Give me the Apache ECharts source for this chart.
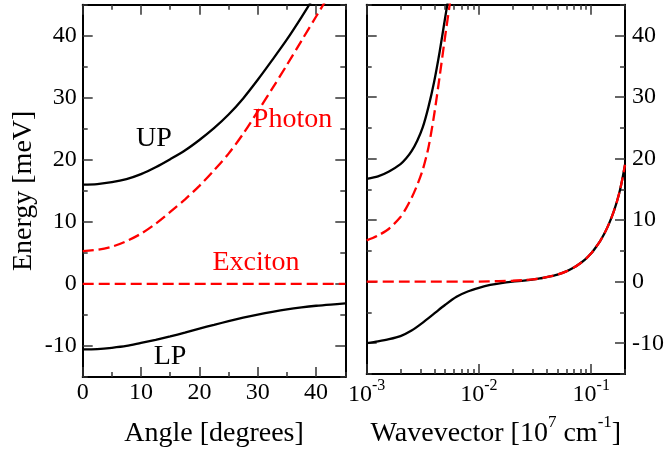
<!DOCTYPE html>
<html><head><meta charset="utf-8">
<script src="https://cdn.jsdelivr.net/npm/echarts@6/dist/echarts.min.js"></script>
<style>html,body{margin:0;padding:0;background:#fff}#c{width:667px;height:453px}</style>
</head><body><div id="c"></div>
<script>
// ---- Left panel: energy vs angle ----
const angleDeg = [0,2.5,5,7.5,10,12.5,15,17.5,20,22.5,25,27.5,30,32.5,35,37.5,40,42.5,45];
const upperAngle = [16.0,16.1,16.4,16.9,17.7,18.8,20.1,21.5,23.2,25.1,27.3,29.9,32.9,36.1,39.4,43.0,46.8,50.6,54.5];
const photonAngle = [5.3,5.5,6.0,6.9,8.1,9.7,11.6,13.6,15.8,18.3,21.0,24.2,27.8,31.5,35.3,39.2,43.1,47.0,51.0];
const lowerAngle = [-10.55,-10.5,-10.3,-10.0,-9.5,-9.0,-8.45,-7.85,-7.2,-6.6,-6.0,-5.45,-4.95,-4.5,-4.1,-3.78,-3.52,-3.32,-3.15];
const excitonAngleX = [0,45];
const excitonAngle = [0,0];

// ---- Right panel: energy vs wavevector ----
const kSmall = [0.001,0.00126,0.00158,0.002,0.00224,0.00251,0.00282,0.00316,0.00355,0.00398,0.00447,0.00501,0.00562,0.00631];
const photonK = [6.7,7.5,8.6,10.5,11.9,13.6,15.7,18.2,21.8,27.0,33.4,40.0,46.3,52.5];
const upperK  = [16.7,17.1,17.9,19.1,20.0,21.2,22.9,25.1,28.4,32.4,37.4,43.0,48.5,54.0];
const kLower = [0.001,0.00126,0.00158,0.002,0.00251,0.00316,0.00398,0.00501,0.00631,0.00794,0.01,0.0126,0.0158,0.02,0.0251,0.03,0.035,0.04,0.05,0.06,0.07,0.08,0.09,0.1,0.11,0.12,0.13,0.14,0.15,0.16,0.17,0.18,0.19,0.2];
const lowerK = [-10.0,-9.7,-9.35,-8.85,-7.95,-6.65,-5.2,-3.75,-2.45,-1.6,-1.0,-0.53,-0.22,0.0,0.16,0.33,0.53,0.72,1.15,1.68,2.3,3.0,3.75,4.6,5.6,6.6,7.7,8.9,10.2,11.6,13.1,14.8,16.8,19.0];
const kExciton = [0.001,0.002,0.005,0.008,0.01,0.015,0.02,0.025,0.03,0.035,0.04,0.05,0.06,0.07,0.08,0.09,0.1,0.11,0.12,0.13,0.14,0.15,0.16,0.17,0.18,0.19,0.2];
const excitonK = [0,0,0,0.01,0.02,0.08,0.15,0.25,0.36,0.53,0.72,1.15,1.68,2.3,3.0,3.75,4.6,5.6,6.6,7.7,8.9,10.2,11.6,13.1,14.8,16.8,19.0];

// ---- Ticks ----
const angleMajor = [0,10,20,30,40];
const angleMinor = [5,15,25,35,45];
const energyMajor = [-10,0,10,20,30,40];
const energyMinor = [-15,-5,5,15,25,35,45];
const kMajor = [0.001,0.01,0.1];
const kMinor = [0.002,0.003,0.004,0.005,0.006,0.007,0.008,0.009,0.02,0.03,0.04,0.05,0.06,0.07,0.08,0.09,0.2];

const FONT = 'Liberation Serif';
const TICKC = '#333';

function axis(kind, grid, pos, type, min, max, ticks, len, opts) {
  const a = {
    type: type, gridIndex: grid, position: pos, min: min, max: max,
    axisLine: {show: !!(opts && opts.line), onZero: false, lineStyle: {color: '#000', width: 2}},
    axisTick: {show: true, inside: true, length: len, customValues: ticks, lineStyle: {color: TICKC, width: 1.5}},
    axisLabel: {show: false, customValues: ticks},
    splitLine: {show: false}, minorTick: {show: false}, minorSplitLine: {show: false}
  };
  if (type === 'log') a.logBase = 10;
  if (opts && opts.label) a.axisLabel = Object.assign({show: true, customValues: ticks, fontFamily: FONT, fontSize: 24, color: '#000'}, opts.label);
  if (opts && opts.name) Object.assign(a, opts.name);
  return a;
}

const xAxes = [
  axis('x',0,'bottom','value',0,45,angleMajor,10,{line:true,label:{margin:4},
     name:{name:'Angle [degrees]',nameLocation:'middle',nameGap:43,nameTextStyle:{fontFamily:FONT,fontSize:28,color:'#000'}}}),
  axis('x',0,'bottom','value',0,45,angleMinor,5),
  axis('x',0,'top','value',0,45,angleMajor,10,{line:true}),
  axis('x',0,'top','value',0,45,angleMinor,5),
  axis('x',1,'bottom','log',0.001,0.2,kMajor,10,{line:true,label:{margin:4,
     formatter: v => '{b|10}{s|' + Math.round(Math.log10(v)) + '}',
     rich:{b:{fontFamily:FONT,fontSize:24,color:'#000',padding:[5,0,0,0],verticalAlign:'bottom'},
           s:{fontFamily:FONT,fontSize:16,color:'#000',lineHeight:16,verticalAlign:'top'}}},
     name:{name:'{t|Wavevector [10}{u|7}{t| cm}{u|-1}{t|]}',nameLocation:'middle',nameGap:40,
       nameTextStyle:{rich:{t:{fontFamily:FONT,fontSize:28,color:'#000',padding:[6,0,0,0],verticalAlign:'bottom'},
                            u:{fontFamily:FONT,fontSize:17,color:'#000',lineHeight:17,verticalAlign:'top'}}}}}),
  axis('x',1,'bottom','log',0.001,0.2,kMinor,5),
  axis('x',1,'top','log',0.001,0.2,kMajor,10,{line:true}),
  axis('x',1,'top','log',0.001,0.2,kMinor,5)
];
const yAxes = [
  axis('y',0,'left','value',-15,45,energyMajor,10,{line:true,label:{margin:6},
     name:{name:'Energy [meV]',nameLocation:'middle',nameGap:45,nameTextStyle:{fontFamily:FONT,fontSize:28,color:'#000'}}}),
  axis('y',0,'left','value',-15,45,energyMinor,5),
  axis('y',0,'right','value',-15,45,energyMajor,10,{line:true}),
  axis('y',0,'right','value',-15,45,energyMinor,5),
  axis('y',1,'left','value',-15,45,energyMajor,10,{line:true}),
  axis('y',1,'left','value',-15,45,energyMinor,5),
  axis('y',1,'right','value',-15,45,energyMajor,10,{line:true,label:{margin:7}}),
  axis('y',1,'right','value',-15,45,energyMinor,5)
];

function zip(xs, ys) { return xs.map((x,i) => [x, ys[i]]); }
const solid = {color:'#000', width:2.3, type:'solid'};
const dashed = {color:'#ff0000', width:2.3, type:[11,5]};
function line(name, xi, yi, data, style, smooth) {
  return {name:name, type:'line', xAxisIndex:xi, yAxisIndex:yi, data:data, showSymbol:false, symbol:'none',
          smooth:smooth, lineStyle:style, clip:true, silent:true};
}

const series = [
  line('UP',0,0,zip(angleDeg,upperAngle),solid,0.3),
  line('LP',0,0,zip(angleDeg,lowerAngle),solid,0.3),
  line('Photon',0,0,zip(angleDeg,photonAngle),dashed,0.3),
  line('Exciton',0,0,zip(excitonAngleX,excitonAngle),dashed,false),
  line('UP k',4,4,zip(kSmall,upperK),solid,0.25),
  line('LP k',4,4,zip(kLower,lowerK),solid,0.25),
  line('Photon k',4,4,zip(kSmall,photonK),dashed,0.25),
  line('Exciton k',4,4,zip(kExciton,excitonK),dashed,0.25)
];

const chart = echarts.init(document.getElementById('c'), null, {renderer:'canvas'});
chart.setOption({
  animation:false,
  backgroundColor:'#fff',
  grid:[{left:82.7,top:4.7,width:262.6,height:373},{left:366.7,top:4.7,width:262.6,height:373}],
  xAxis:xAxes, yAxis:yAxes, series:series,
  graphic:[
    {type:'text',x:154,y:139,style:{text:'UP',font:'28px '+FONT,fill:'#000',align:'center',verticalAlign:'middle'}},
    {type:'text',x:292.5,y:120,style:{text:'Photon',font:'28px '+FONT,fill:'#ff0000',align:'center',verticalAlign:'middle'}},
    {type:'text',x:256,y:263,style:{text:'Exciton',font:'28px '+FONT,fill:'#ff0000',align:'center',verticalAlign:'middle'}},
    {type:'text',x:170,y:357,style:{text:'LP',font:'28px '+FONT,fill:'#000',align:'center',verticalAlign:'middle'}}
  ]
});
</script></body></html>
